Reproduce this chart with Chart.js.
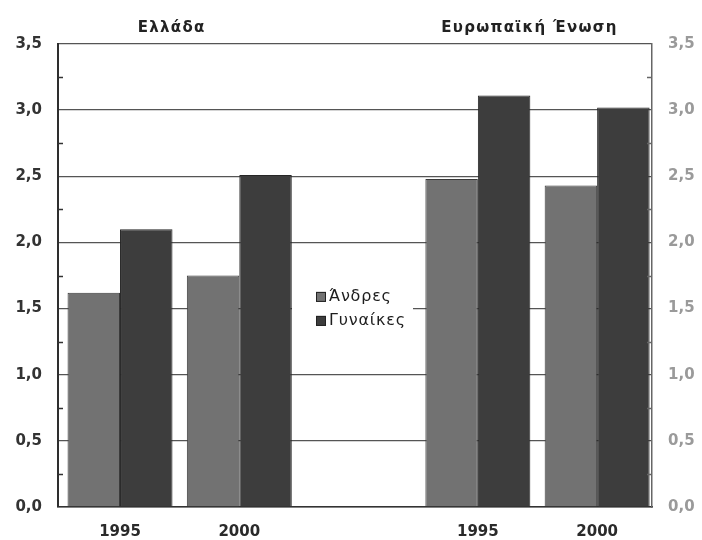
<!DOCTYPE html>
<html lang="el">
<head>
<meta charset="utf-8">
<title>Άνδρες και Γυναίκες — Ελλάδα / Ευρωπαϊκή Ένωση</title>
<script src="https://cdn.jsdelivr.net/npm/chart.js@4/dist/chart.umd.min.js"></script>
<style>
  html, body { margin: 0; padding: 0; background: #ffffff; }
  #wrap { width: 702px; height: 540px; position: relative; }
</style>
</head>
<body>
<div id="wrap"><canvas id="chart" width="702" height="540"></canvas></div>
<script>
// Years shown under each pair of bars, and where each pair sits on the x scale
// (slot 2 is left empty to hold the legend between the two regions).
const yearLabels = ['1995', '2000', '1995', '2000'];
const slotPositions = [0, 1, 3, 4];

// Region headings, one per pair of years
const regionTitles = ['Ελλάδα', 'Ευρωπαϊκή Ένωση'];

// Series
const seriesNames = ['Άνδρες', 'Γυναίκες'];
const menValues = [1.62, 1.75, 2.48, 2.43];
const womenValues = [2.10, 2.51, 3.11, 3.02];

// Value axis ticks (every 0.25, labelled every 0.5)
const yTickValues = [0, 0.25, 0.5, 0.75, 1, 1.25, 1.5, 1.75, 2, 2.25, 2.5, 2.75, 3, 3.25, 3.5];

const FONT = "'DejaVu Sans', Verdana, sans-serif";
const fmt = v => v.toFixed(1).replace('.', ',');
const isMajor = v => Math.abs(v * 2 - Math.round(v * 2)) < 1e-6;

const toPoints = vals => vals.map((y, i) => ({ x: slotPositions[i], y }));

// White page background
const background = {
  id: 'background',
  beforeDraw(chart) {
    const { ctx, width, height } = chart;
    ctx.save();
    ctx.fillStyle = '#ffffff';
    ctx.fillRect(0, 0, width, height);
    ctx.restore();
  }
};

// Short inward tick marks at the quarter steps on both value axes
const minorTicks = {
  id: 'minorTicks',
  afterDatasetsDraw(chart) {
    const { ctx, chartArea } = chart;
    const y = chart.scales.y;
    ctx.save();
    yTickValues.filter(v => !isMajor(v)).forEach(v => {
      const py = Math.round(y.getPixelForValue(v)) + 0.5;
      ctx.strokeStyle = '#333';
      ctx.lineWidth = 1.5;
      ctx.beginPath();
      ctx.moveTo(chartArea.left, py);
      ctx.lineTo(chartArea.left + 5, py);
      ctx.stroke();
      ctx.strokeStyle = '#666';
      ctx.beginPath();
      ctx.moveTo(chartArea.right, py);
      ctx.lineTo(chartArea.right - 5, py);
      ctx.stroke();
    });
    ctx.restore();
  }
};

// Region headings centred above each pair of years
const regionHeadings = {
  id: 'regionHeadings',
  afterDraw(chart) {
    const { ctx } = chart;
    const x = chart.scales.x;
    ctx.save();
    ctx.font = `bold 15px ${FONT}`;
    ctx.letterSpacing = '1.3px';
    ctx.fillStyle = '#222';
    ctx.textAlign = 'center';
    ctx.textBaseline = 'middle';
    regionTitles.forEach((t, i) => {
      const a = slotPositions[i * 2], b = slotPositions[i * 2 + 1];
      const cx = x.getPixelForValue((a + b) / 2) - 8;
      ctx.fillText(t, cx, 28);
    });
    ctx.restore();
  }
};

// Legend boxed in the empty middle slot
const middleLegend = {
  id: 'middleLegend',
  afterDraw(chart) {
    const { ctx, chartArea } = chart;
    const cx = (chartArea.left + chartArea.right) / 2 - 3;
    const cy = chartArea.top + (chartArea.bottom - chartArea.top) * 0.57;
    ctx.save();
    ctx.fillStyle = '#ffffff';
    ctx.fillRect(cx - 60, cy - 26, 121, 52);
    ctx.font = `16px ${FONT}`;
    ctx.letterSpacing = '0.8px';
    ctx.textBaseline = 'middle';
    ctx.textAlign = 'left';
    chart.data.datasets.forEach((ds, i) => {
      const rowY = cy - 11 + i * 24;
      const sx = cx - 36;
      ctx.fillStyle = ds.backgroundColor;
      ctx.fillRect(sx, rowY - 5, 10, 10);
      ctx.strokeStyle = '#222';
      ctx.lineWidth = 1;
      ctx.strokeRect(sx + 0.5, rowY - 4.5, 9, 9);
      ctx.fillStyle = '#1e1e1e';
      ctx.fillText(ds.label, sx + 13, rowY);
    });
    ctx.restore();
  }
};

const ctx = document.getElementById('chart').getContext('2d');
new Chart(ctx, {
  type: 'bar',
  data: {
    datasets: [
      {
        label: seriesNames[0],
        data: toPoints(menValues),
        backgroundColor: '#727272',
        borderColor: '#3a3a3a',
        borderWidth: 1
      },
      {
        label: seriesNames[1],
        data: toPoints(womenValues),
        backgroundColor: '#3d3d3d',
        borderColor: '#262626',
        borderWidth: 1
      }
    ]
  },
  options: {
    responsive: false,
    animation: false,
    events: [],
    layout: { padding: { top: 44, left: 0, right: 0, bottom: 0 } },
    datasets: { bar: { categoryPercentage: 0.88, barPercentage: 1.0, grouped: true } },
    plugins: {
      legend: { display: false },
      tooltip: { enabled: false },
      title: { display: false }
    },
    scales: {
      x: {
        type: 'linear',
        offset: false,
        min: -0.52,
        max: 4.46,
        afterBuildTicks(scale) {
          scale.ticks = slotPositions.map(v => ({ value: v }));
        },
        afterFit(scale) { scale.height = 33; },
        grid: { display: false, drawTicks: false },
        border: { display: true, color: '#333', width: 1.5 },
        ticks: {
          autoSkip: false,
          maxRotation: 0,
          padding: 16,
          color: '#2a2a2a',
          font: { family: FONT, size: 15, weight: 'bold' },
          callback: v => {
            const i = slotPositions.indexOf(v);
            return i >= 0 ? yearLabels[i] : '';
          }
        }
      },
      y: {
        position: 'left',
        min: 0,
        max: 3.5,
        afterBuildTicks(scale) {
          scale.ticks = yTickValues.map(v => ({ value: v }));
        },
        afterFit(scale) { scale.width = 58; },
        grid: {
          drawTicks: false,
          color: c => isMajor(c.tick.value) ? '#555' : 'rgba(0,0,0,0)',
          lineWidth: 1.3
        },
        border: { display: true, color: '#2e2e2e', width: 2 },
        ticks: {
          autoSkip: false,
          padding: 16,
          color: '#333',
          font: { family: FONT, size: 15, weight: 'bold' },
          callback: v => isMajor(v) ? fmt(v) : ''
        }
      },
      y2: {
        position: 'right',
        min: 0,
        max: 3.5,
        afterBuildTicks(scale) {
          scale.ticks = yTickValues.map(v => ({ value: v }));
        },
        afterFit(scale) { scale.width = 50; },
        grid: { display: false, drawTicks: false },
        border: { display: true, color: '#666', width: 1.5 },
        ticks: {
          autoSkip: false,
          padding: 16,
          color: '#9a9a9a',
          font: { family: FONT, size: 15, weight: 'bold' },
          callback: v => isMajor(v) ? fmt(v) : ''
        }
      }
    }
  },
  plugins: [background, minorTicks, regionHeadings, middleLegend]
});
</script>
</body>
</html>
